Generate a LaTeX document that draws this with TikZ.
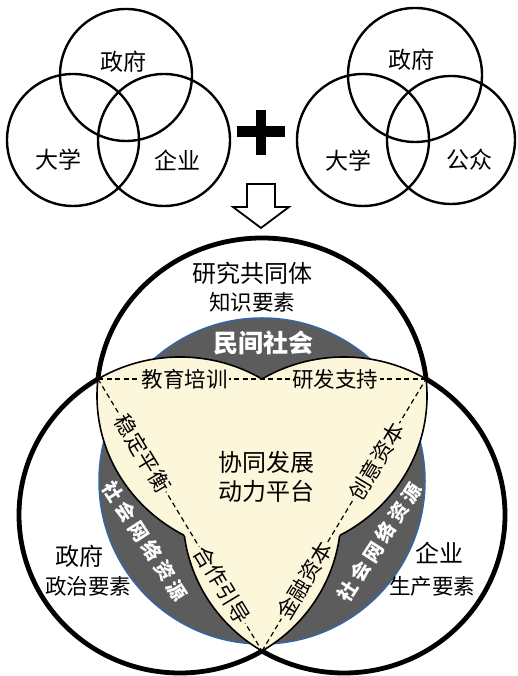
\documentclass[tikz,border=0pt]{standalone}
\usepackage{fontspec}
\newfontfamily\cjk{Noto Sans CJK SC}
\definecolor{cream}{HTML}{FCF7DA}
\definecolor{darkgr}{HTML}{5C5C5C}
\definecolor{blueedge}{HTML}{3465A8}
\newcommand\gsp{\kern4pt}
\begin{document}
\begin{tikzpicture}[x=1pt,y=1pt,
  pT/.style={insert path={(262,280) ellipse [x radius=165pt, y radius=158pt]}},
  pL/.style={insert path={(180,161) ellipse [x radius=161pt, y radius=158pt]}},
  pR/.style={insert path={(344,161) ellipse [x radius=161pt, y radius=158pt]}},
  outerframe/.style={insert path={(-100,-100) -- (-100,800) -- (700,800) -- (700,-100) -- cycle}},
  smallc/.style={line width=2.4pt},
  bigc/.style={line width=4.8pt, black},
  innerline/.style={line width=1.6pt, black},
  dashline/.style={line width=1.2pt, dash pattern=on 5pt off 3.5pt},
  lbl/.style={font=\cjk\fontsize{23}{26}\selectfont, inner sep=0pt},
  lblb/.style={font=\cjk\fontsize{24}{27}\selectfont, inner sep=0pt},
  subl/.style={font=\cjk\fontsize{21.5}{24}\selectfont, inner sep=0pt},
  edgel/.style={font=\cjk\fontsize{21.5}{24}\selectfont, fill=cream, inner sep=1.5pt, sloped},
  grayl/.style={font=\cjk\bfseries\fontsize{19.5}{22}\selectfont, text=white, inner sep=0pt},
  civl/.style={font=\cjk\bfseries\fontsize{25}{28}\selectfont, text=white, inner sep=0pt}
]
\useasboundingbox (0,0) rectangle (517,676);
\fill[white] (0,0) rectangle (517,676);

% ---- small Venn (left)
\draw[smallc] (126,601) circle (66pt);
\draw[smallc] (73,536) circle (66pt);
\draw[smallc] (164,536) circle (66pt);
\node[lbl] (a1) at (123,614) {政府};
\node[lbl] (a2) at (58,516) {大学};
\node[lbl] (a3) at (177,516) {企业};

% ---- small Venn (right)
\draw[smallc] (415,601) circle (67pt);
\draw[smallc] (363,536) circle (66pt);
\draw[smallc] (451,536) circle (64pt);
\node[lbl] (b1) at (411,616) {政府};
\node[lbl] (b2) at (348,515) {大学};
\node[lbl] (b3) at (469,516) {公众};

% ---- plus
\draw[line width=11pt] (237,544.5) -- (285,544.5);
\draw[line width=10pt] (260.5,566) -- (260.5,521);

% ---- hollow arrow
\draw[line width=1.8pt, fill=white, line join=miter]
  (247,492) -- (275,492) -- (275,469) -- (289,469) -- (261,448) -- (233,469) -- (247,469) -- cycle;

% ---- gray disc
\filldraw[fill=darkgr, draw=blueedge, line width=1.5pt] (262,195) circle (163pt);

% ---- cream region (pairwise intersections)
\begin{scope}\clip[pT]; \fill[cream, pL];\end{scope}
\begin{scope}\clip[pT]; \fill[cream, pR];\end{scope}
\begin{scope}\clip[pL]; \fill[cream, pR];\end{scope}

% ---- dashed triangle with labels
\coordinate (vTL) at (98,297);
\coordinate (vTR) at (426,297);
\coordinate (vB) at (262,25);
\draw[dashline] (vTL) -- node[edgel, pos=.265] (e1) {教育培训} node[edgel, pos=.723] (e2) {研发支持} (vTR);
\draw[dashline] (vTL) -- node[edgel, pos=.274] (e3) {稳定平衡} node[edgel, pos=.757] (e4) {合作引导} (vB);
\draw[dashline] (vB) -- node[edgel, pos=.259] (e5) {金融资本} node[edgel, pos=.697] (e6) {创意资本} (vTR);

% ---- thin borders of the cream region
\begin{scope}[even odd rule]\clip[pL]; \clip[outerframe, pR]; \draw[innerline, pT];\end{scope}
\begin{scope}[even odd rule]\clip[pR]; \clip[outerframe, pL]; \draw[innerline, pT];\end{scope}
\begin{scope}[even odd rule]\clip[pT]; \clip[outerframe, pR]; \draw[innerline, pL];\end{scope}
\begin{scope}[even odd rule]\clip[pR]; \clip[outerframe, pT]; \draw[innerline, pL];\end{scope}
\begin{scope}[even odd rule]\clip[pT]; \clip[outerframe, pL]; \draw[innerline, pR];\end{scope}
\begin{scope}[even odd rule]\clip[pL]; \clip[outerframe, pT]; \draw[innerline, pR];\end{scope}

% ---- thick outer outline
\begin{scope}[even odd rule]\clip[outerframe, pL]; \clip[outerframe, pR]; \draw[bigc, pT];\end{scope}
\begin{scope}[even odd rule]\clip[outerframe, pT]; \clip[outerframe, pR]; \draw[bigc, pL];\end{scope}
\begin{scope}[even odd rule]\clip[outerframe, pT]; \clip[outerframe, pL]; \draw[bigc, pR];\end{scope}

% ---- labels of big Venn
\node[lblb] (c1) at (252,403) {研究共同体};
\node[subl] (c2) at (252,374) {知识要素};
\node[civl] (c3) at (263,333) {民间社会};
\node[lblb] (c4) at (266,214) {协同发展};
\node[lblb] (c5) at (266,185) {动力平台};
\node[lblb] (c6) at (79,120) {政府};
\node[subl] (c7) at (88,90) {政治要素};
\node[lblb] (c8) at (439,123) {企业};
\node[subl] (c9) at (432,90) {生产要素};
\node[grayl, rotate=-57] (c10) at (145.5,135) {社\gsp{}会\gsp{}网\gsp{}络\gsp{}资\gsp{}源};
\node[grayl, rotate=57] (c11) at (379.5,134) {社\gsp{}会\gsp{}网\gsp{}络\gsp{}资\gsp{}源};
\end{tikzpicture}
\end{document}
